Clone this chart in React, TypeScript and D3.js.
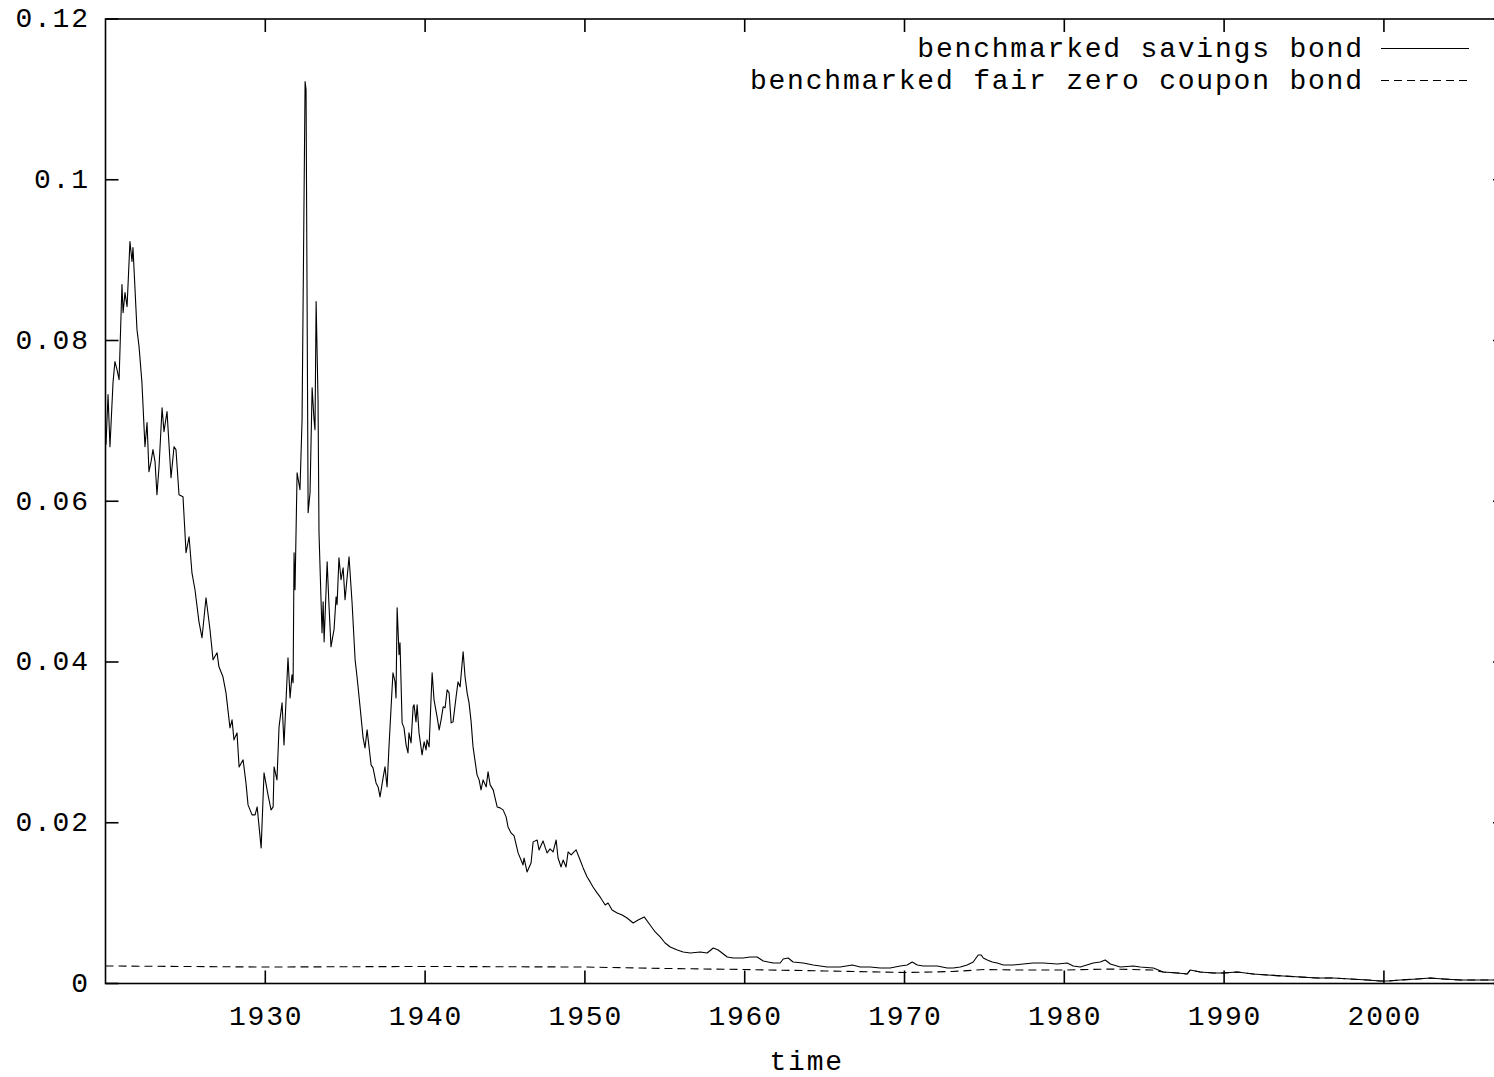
import React from 'react';
import * as d3 from 'd3';

const savingsYears = [
  1920.03, 1920.16, 1920.28, 1920.47, 1920.59, 1920.72, 1920.85, 1921.03, 1921.10, 1921.22,
  1921.35, 1921.53, 1921.66, 1921.72, 1921.97, 1922.10, 1922.28, 1922.47, 1922.60, 1922.72,
  1922.85, 1922.97, 1923.10, 1923.22, 1923.35, 1923.54, 1923.66, 1923.85, 1924.10, 1924.29,
  1924.41, 1924.60, 1924.85, 1925.04, 1925.23, 1925.41, 1925.60, 1925.85, 1926.04, 1926.29,
  1926.54, 1926.73, 1926.98, 1927.10, 1927.35, 1927.54, 1927.79, 1927.92, 1928.04, 1928.23,
  1928.36, 1928.61, 1928.79, 1928.92, 1929.17, 1929.36, 1929.49, 1929.74, 1929.92, 1930.17,
  1930.36, 1930.49, 1930.55, 1930.73, 1930.86, 1931.05, 1931.17, 1931.42, 1931.55, 1931.67,
  1931.74, 1931.80, 1931.86, 1931.99, 1932.17, 1932.30, 1932.49, 1932.55, 1932.68, 1932.80,
  1932.93, 1933.05, 1933.11, 1933.18, 1933.30, 1933.36, 1933.55, 1933.62, 1933.68, 1933.87,
  1933.99, 1934.11, 1934.24, 1934.30, 1934.43, 1934.49, 1934.61, 1934.74, 1934.87, 1934.99,
  1935.24, 1935.43, 1935.62, 1935.74, 1935.93, 1936.12, 1936.24, 1936.37, 1936.62, 1936.74,
  1936.93, 1937.06, 1937.18, 1937.37, 1937.49, 1937.62, 1937.74, 1937.93, 1937.99, 1938.12,
  1938.18, 1938.25, 1938.37, 1938.43, 1938.56, 1938.68, 1938.81, 1938.93, 1938.99, 1939.12,
  1939.25, 1939.31, 1939.43, 1939.50, 1939.62, 1939.81, 1939.94, 1940.06, 1940.12, 1940.25,
  1940.44, 1940.56, 1940.75, 1940.88, 1941.00, 1941.13, 1941.25, 1941.38, 1941.50, 1941.63,
  1941.75, 1941.94, 1942.06, 1942.19, 1942.38, 1942.50, 1942.63, 1942.75, 1942.88, 1943.00,
  1943.25, 1943.38, 1943.50, 1943.63, 1943.82, 1943.94, 1944.07, 1944.26, 1944.51, 1944.69,
  1944.88, 1945.07, 1945.19, 1945.38, 1945.57, 1945.82, 1946.13, 1946.19, 1946.38, 1946.63,
  1946.76, 1947.01, 1947.13, 1947.38, 1947.63, 1947.82, 1948.01, 1948.20, 1948.32, 1948.51,
  1948.64, 1948.82, 1948.95, 1949.14, 1949.26, 1949.45, 1949.70, 1949.89, 1950.14, 1950.33,
  1950.51, 1950.76, 1950.95, 1951.27, 1951.45, 1951.70, 1952.02, 1952.33, 1952.64, 1953.02,
  1953.33, 1953.71, 1954.08, 1954.40, 1954.71, 1955.02, 1955.34, 1955.78, 1956.15, 1956.59,
  1957.22, 1957.65, 1958.03, 1958.34, 1958.91, 1959.28, 1959.90, 1960.34, 1960.78, 1961.16,
  1961.78, 1962.22, 1962.41, 1962.72, 1963.03, 1963.66, 1964.29, 1965.16, 1965.98, 1966.73,
  1967.23, 1967.85, 1968.48, 1969.10, 1969.73, 1970.17, 1970.48, 1970.80, 1971.17, 1971.61,
  1972.05, 1972.67, 1973.05, 1973.49, 1973.92, 1974.30, 1974.61, 1974.80, 1974.93, 1975.18,
  1975.49, 1975.80, 1976.18, 1976.80, 1977.43, 1978.05, 1978.68, 1979.56, 1980.18, 1980.56,
  1981.00, 1981.81, 1982.25, 1982.56, 1982.88, 1983.50, 1984.32, 1984.75, 1985.57, 1986.19,
  1987.07, 1987.69, 1987.88, 1988.51, 1989.32, 1989.95, 1990.82, 1991.83, 1992.70, 1993.70,
  1994.77, 1995.83, 1996.83, 1997.90, 1998.96, 1999.77, 2000.21, 2001.02, 2002.09, 2002.90,
  2003.72, 2004.78, 2005.85, 2006.85, 2007.60,
];

const savingsValues = [
  0.06704, 0.07326, 0.06679, 0.07476, 0.07737, 0.07637, 0.07513, 0.08696, 0.08347, 0.08596,
  0.08422, 0.09231, 0.08982, 0.09156, 0.08135, 0.07924, 0.07476, 0.06679, 0.06978, 0.06368,
  0.06492, 0.06642, 0.06492, 0.06081, 0.0643, 0.07164, 0.06866, 0.07115, 0.06293, 0.06679,
  0.06642, 0.06081, 0.06056, 0.05359, 0.05558, 0.0511, 0.04899, 0.045, 0.04301, 0.04799,
  0.04401, 0.04027, 0.04114, 0.0394, 0.03816, 0.03616, 0.03181, 0.0328, 0.03031, 0.03118,
  0.02695, 0.02782, 0.02496, 0.02222, 0.02098, 0.02098, 0.02197, 0.01687, 0.0262, 0.02347,
  0.0216, 0.02197, 0.02695, 0.02533, 0.03193, 0.03492, 0.02969, 0.04052, 0.03554, 0.0384,
  0.03741, 0.05359, 0.04899, 0.06355, 0.06144, 0.07015, 0.11223, 0.11123, 0.05857, 0.06106,
  0.07413, 0.07015, 0.06891, 0.08484, 0.07264, 0.05608, 0.04363, 0.04749, 0.04251, 0.05247,
  0.04687, 0.04189, 0.04338, 0.04401, 0.04812, 0.04712, 0.05297, 0.05023, 0.05173, 0.04774,
  0.05309, 0.04737, 0.04027, 0.03816, 0.03442, 0.03056, 0.02932, 0.03156, 0.0272, 0.02683,
  0.02496, 0.02446, 0.02322, 0.02558, 0.02695, 0.02446, 0.02944, 0.03654, 0.03865, 0.03753,
  0.03554, 0.04675, 0.0409, 0.04239, 0.03243, 0.03181, 0.02969, 0.02869, 0.03118, 0.02994,
  0.03442, 0.03467, 0.03255, 0.03467, 0.03118, 0.02845, 0.03006, 0.02907, 0.03031, 0.02944,
  0.03865, 0.03529, 0.03318, 0.03156, 0.0328, 0.03442, 0.0343, 0.03654, 0.03616, 0.03243,
  0.03255, 0.03567, 0.03753, 0.03691, 0.04127, 0.03816, 0.03616, 0.03492, 0.03255, 0.02944,
  0.02596, 0.02533, 0.02409, 0.02533, 0.02446, 0.02633, 0.02471, 0.02409, 0.02197, 0.02185,
  0.0216, 0.02073, 0.01948, 0.01874, 0.01836, 0.01625, 0.01475, 0.01562, 0.01388, 0.015,
  0.01762, 0.01786, 0.01662, 0.01774, 0.01625, 0.01674, 0.01637, 0.01786, 0.01562, 0.0145,
  0.01537, 0.0145, 0.01637, 0.016, 0.01625, 0.01662, 0.01537, 0.01438, 0.01326, 0.01264,
  0.01201, 0.01127, 0.01077, 0.00977, 0.01002, 0.00915, 0.00878, 0.00853, 0.00815, 0.00753,
  0.00791, 0.00828, 0.00728, 0.00641, 0.00579, 0.00504, 0.00454, 0.00417, 0.00392, 0.0038,
  0.00392, 0.0038, 0.00442, 0.00417, 0.0033, 0.00317, 0.00317, 0.0033, 0.0033, 0.0028,
  0.00255, 0.00255, 0.00305, 0.00317, 0.00268, 0.00255, 0.0023, 0.00205, 0.00205, 0.0023,
  0.00205, 0.00205, 0.00193, 0.00193, 0.00218, 0.0023, 0.00268, 0.0023, 0.00218, 0.00218,
  0.00218, 0.00193, 0.00193, 0.00205, 0.0023, 0.00268, 0.00355, 0.00355, 0.00317, 0.00293,
  0.00268, 0.00255, 0.0023, 0.0023, 0.00243, 0.00255, 0.00255, 0.00243, 0.00255, 0.00218,
  0.00205, 0.00255, 0.00268, 0.00293, 0.00243, 0.00205, 0.00218, 0.00205, 0.00193, 0.00143,
  0.00131, 0.00118, 0.00168, 0.00143, 0.00131, 0.00131, 0.00143, 0.00118, 0.00106, 0.00093,
  0.00081, 0.00068, 0.00068, 0.00056, 0.00044, 0.00031, 0.00031, 0.00044, 0.00056, 0.00068,
  0.00056, 0.00044, 0.00044, 0.00044, 0.00044,
];

const zcbYears = [
  1920.0, 1930.0, 1940.0, 1950.0, 1955.0, 1960.0, 1965.0, 1970.0, 1973.0, 1975.0,
  1977.0, 1980.0, 1983.0, 1985.5, 1986.19, 1987.07, 1987.69, 1987.88, 1988.51, 1989.32,
  1989.95, 1990.82, 1991.83, 1992.70, 1993.70, 1994.77, 1995.83, 1996.83, 1997.90, 1998.96,
  1999.77, 2000.21, 2001.02, 2002.09, 2002.90, 2003.72, 2004.78, 2005.85, 2006.85, 2007.60,
];

const zcbValues = [
  0.00218, 0.00205, 0.00212, 0.00205, 0.00187, 0.00174, 0.00156, 0.00137, 0.00149, 0.00174,
  0.00168, 0.00168, 0.0018, 0.00168, 0.00143, 0.00131, 0.00118, 0.00168, 0.00143, 0.00131,
  0.00131, 0.00143, 0.00118, 0.00106, 0.00093, 0.00081, 0.00068, 0.00068, 0.00056, 0.00044,
  0.00031, 0.00031, 0.00044, 0.00056, 0.00068, 0.00056, 0.00044, 0.00044, 0.00044, 0.00044,
];

const xTicks = [1930, 1940, 1950, 1960, 1970, 1980, 1990, 2000];
const yTicks = [0, 0.02, 0.04, 0.06, 0.08, 0.1, 0.12];
const yTickLabels = ['0', '0.02', '0.04', '0.06', '0.08', '0.1', '0.12'];
const legendLabels = ['benchmarked savings bond', 'benchmarked fair zero coupon bond'];
const xAxisTitle = 'time';

export default function App() {
  const W = 1494;
  const H = 1077;
  const left = 105.5;
  const right = 1506;
  const top = 19;
  const bottom = 983.5;
  const tickLen = 13;
  const font = "'Liberation Mono', 'DejaVu Sans Mono', monospace";
  const fs = 28;
  const ls = 1.8;

  const x = d3.scaleLinear().domain([1920, 2007.64]).range([left, right]);
  const y = d3.scaleLinear().domain([0, 0.12]).range([bottom, top]);

  const line = d3
    .line<[number, number]>()
    .x((d) => x(d[0]))
    .y((d) => y(d[1]));

  const savingsData: [number, number][] = savingsYears.map((yr, i) => [yr, savingsValues[i]]);
  const zcbData: [number, number][] = zcbYears.map((yr, i) => [yr, zcbValues[i]]);

  const legendTextX = 1362;
  const legendSampleX0 = 1381;
  const legendSampleX1 = 1469;
  const legendRowY = [48.5, 80.5];

  const textStyle = { letterSpacing: `${ls}px` } as React.CSSProperties;

  return (
    <svg
      width={W}
      height={H}
      style={{ position: 'absolute', left: 0, top: 0, background: '#fff' }}
      fontFamily={font}
    >
      <rect x={0} y={0} width={W} height={H} fill="#fff" />
      <defs>
        <clipPath id="plotClip">
          <rect x={left} y={top} width={right - left} height={bottom - top} />
        </clipPath>
      </defs>

      <g clipPath="url(#plotClip)">
        <path d={line(zcbData) || ''} fill="none" stroke="#000" strokeWidth={1.1} strokeDasharray="8,5" />
        <path d={line(savingsData) || ''} fill="none" stroke="#000" strokeWidth={1.1} strokeLinejoin="round" />
      </g>

      <rect x={left} y={top} width={right - left} height={bottom - top} fill="none" stroke="#000" strokeWidth={1.6} />

      {yTicks.map((t, i) => (
        <g key={'y' + i}>
          <line x1={left} x2={left + tickLen} y1={y(t)} y2={y(t)} stroke="#000" strokeWidth={1.6} />
          <line x1={right} x2={right - tickLen} y1={y(t)} y2={y(t)} stroke="#000" strokeWidth={1.6} />
          <text x={88 + ls} y={y(t) + 1} textAnchor="end" dominantBaseline="middle" fontSize={fs} fill="#000" style={textStyle}>
            {yTickLabels[i]}
          </text>
        </g>
      ))}

      {xTicks.map((t) => (
        <g key={'x' + t}>
          <line x1={x(t)} x2={x(t)} y1={bottom} y2={bottom - tickLen} stroke="#000" strokeWidth={1.6} />
          <line x1={x(t)} x2={x(t)} y1={top} y2={top + tickLen} stroke="#000" strokeWidth={1.6} />
          <text x={x(t) + ls / 2} y={1025} textAnchor="middle" fontSize={fs} fill="#000" style={textStyle}>
            {String(t)}
          </text>
        </g>
      ))}

      <text x={(left + right) / 2 + ls / 2} y={1070} textAnchor="middle" fontSize={fs} fill="#000" style={textStyle}>
        {xAxisTitle}
      </text>

      {legendLabels.map((lab, i) => (
        <g key={'lg' + i}>
          <text x={legendTextX + ls} y={legendRowY[i] + 1} textAnchor="end" dominantBaseline="middle" fontSize={fs} fill="#000" style={textStyle}>
            {lab}
          </text>
          <line
            x1={legendSampleX0}
            x2={legendSampleX1}
            y1={legendRowY[i]}
            y2={legendRowY[i]}
            stroke="#000"
            strokeWidth={1.1}
            strokeDasharray={i === 0 ? undefined : '8,5'}
          />
        </g>
      ))}
    </svg>
  );
}
